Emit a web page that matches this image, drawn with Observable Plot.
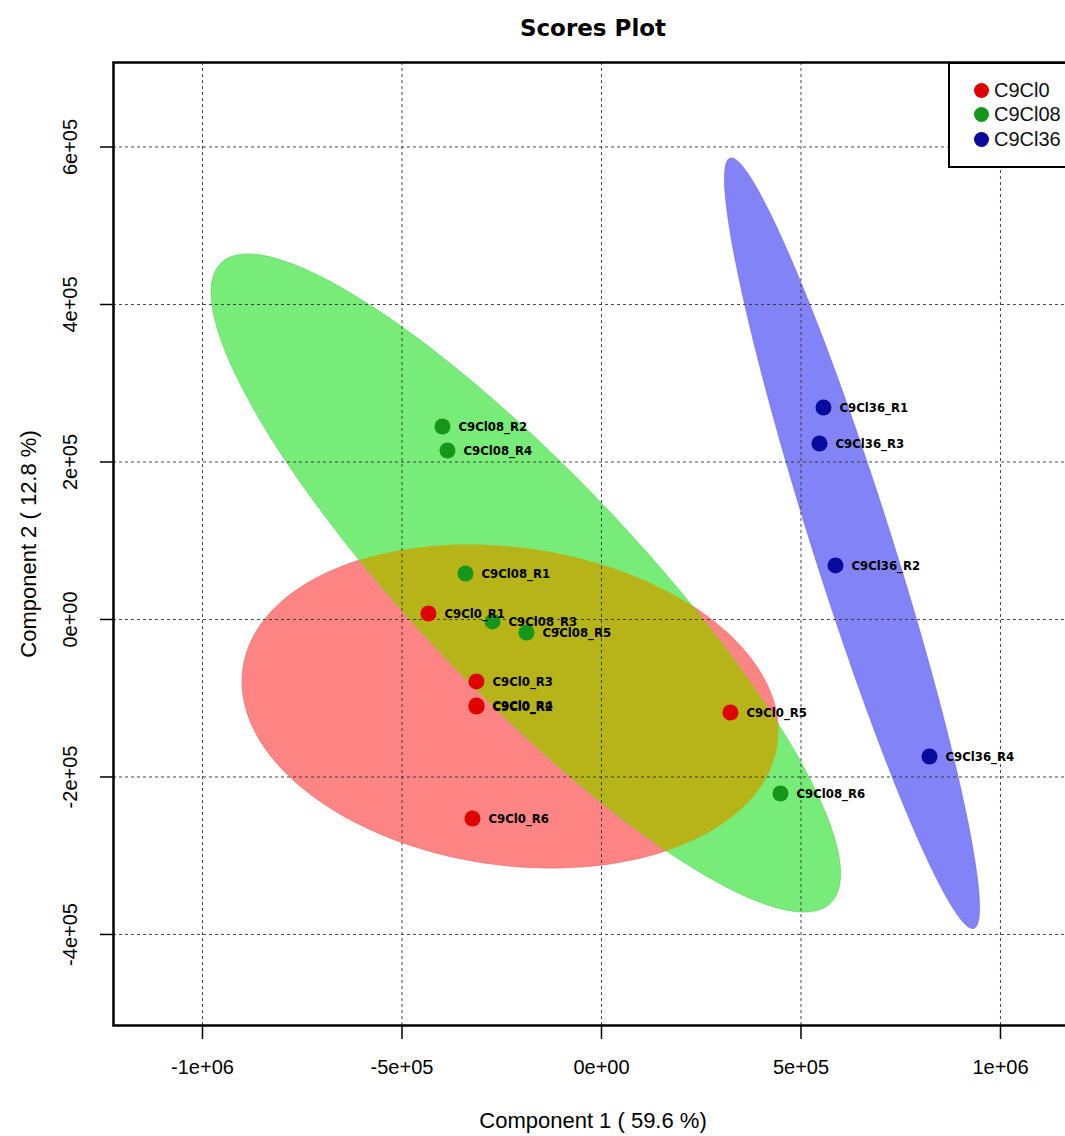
<!DOCTYPE html>
<html><head><meta charset="utf-8">
<script src="https://cdn.jsdelivr.net/npm/d3@7"></script>
<script src="https://cdn.jsdelivr.net/npm/@observablehq/plot@0.6"></script>
<style>
html,body{margin:0;padding:0;background:#fff;overflow:hidden;}
#wrap{position:relative;width:1065px;height:1136px;overflow:hidden;}
#chart{position:absolute;left:0;top:0;width:1100px;}
#chart svg{max-width:none !important;}
#legend{position:absolute;left:948px;top:62px;width:140px;height:106px;border:2px solid #000;box-sizing:border-box;background:#fff;font-family:"Liberation Sans",Arial,sans-serif;font-size:20px;color:#111;}
.item{position:absolute;left:0;height:24px;display:flex;align-items:center;white-space:nowrap;}
.sw{width:15px;height:15px;border-radius:50%;margin-left:24px;margin-right:5px;}
</style></head>
<body><div id="wrap"><div id="chart"></div><div id="legend"></div></div>
<script>
// ---- data ----
const groups = ["C9Cl0", "C9Cl08", "C9Cl36"];
const groupColors = ["#e00000", "#17961c", "#0a0a9c"];
const ellipseFills = ["#ff8585", "#78ec78", "#8383f8"];
const overlapFill = "#b6b418";

const sampleNames = [
  "C9Cl0_R1", "C9Cl0_R2", "C9Cl0_R3", "C9Cl0_R4", "C9Cl0_R5", "C9Cl0_R6",
  "C9Cl08_R1", "C9Cl08_R2", "C9Cl08_R3", "C9Cl08_R4", "C9Cl08_R5", "C9Cl08_R6",
  "C9Cl36_R1", "C9Cl36_R2", "C9Cl36_R3", "C9Cl36_R4"
];
const sampleGroup = [
  "C9Cl0", "C9Cl0", "C9Cl0", "C9Cl0", "C9Cl0", "C9Cl0",
  "C9Cl08", "C9Cl08", "C9Cl08", "C9Cl08", "C9Cl08", "C9Cl08",
  "C9Cl36", "C9Cl36", "C9Cl36", "C9Cl36"
];
const comp1 = [
  -433600, -313300, -313300, -313300, 323300, -323300,
  -340900, -398500, -273200, -386000, -188000, 448600,
  556400, 586500, 546400, 822100
];
const comp2 = [
  7600, -110500, -78700, -109200, -118100, -252700,
  58400, 245100, -2500, 214600, -16500, -221000,
  269200, 68600, 223500, -174000
];

const xTicks = [-1e6, -5e5, 0, 5e5, 1e6];
const xTickLabels = ["-1e+06", "-5e+05", "0e+00", "5e+05", "1e+06"];
const yTicks = [-4e5, -2e5, 0, 2e5, 4e5, 6e5];
const yTickLabels = ["-4e+05", "-2e+05", "0e+00", "2e+05", "4e+05", "6e+05"];
const xDomain = [-1223000, 1220600];
const yDomain = [-515600, 707300];

const title = "Scores Plot";
const xTitle = "Component 1 ( 59.6 %)";
const yTitle = "Component 2 ( 12.8 %)";

// ---- derived ----
const samples = sampleNames.map((name, i) => ({name, group: sampleGroup[i], x: comp1[i], y: comp2[i]}));

// 95% confidence ellipse from sample covariance
const chi = Math.sqrt(-2 * Math.log(0.05));
function ellipse(group) {
  const pts = samples.filter(d => d.group === group);
  const n = pts.length;
  const mx = d3.mean(pts, d => d.x), my = d3.mean(pts, d => d.y);
  let a = 0, b = 0, c = 0;
  for (const p of pts) { a += (p.x - mx) ** 2; b += (p.x - mx) * (p.y - my); c += (p.y - my) ** 2; }
  a /= n - 1; b /= n - 1; c /= n - 1;
  const l11 = Math.sqrt(a), l21 = b / l11, l22 = Math.sqrt(Math.max(c - l21 * l21, 0));
  const out = [];
  for (let k = 0; k < 200; k++) {
    const t = 2 * Math.PI * k / 200;
    const u = chi * Math.cos(t), v = chi * Math.sin(t);
    out.push({group, x: mx + l11 * u, y: my + l21 * u + l22 * v});
  }
  return out;
}
const ellipses = groups.map(ellipse);

const fontTick = "'Liberation Sans', Arial, sans-serif";
const fontLabel = "'DejaVu Sans Condensed', 'Liberation Sans Narrow', 'DejaVu Sans', sans-serif";

const chart = Plot.plot({
  width: 1100,
  height: 1136,
  marginLeft: 113,
  marginRight: 12,
  marginTop: 62,
  marginBottom: 111,
  style: {background: "#fff", color: "#000", fontFamily: fontTick, maxWidth: "none"},
  x: {domain: xDomain, axis: null, label: null},
  y: {domain: yDomain, axis: null, label: null},
  color: {domain: groups, range: groupColors},
  marks: [
    Plot.line(ellipses[0], {x: "x", y: "y", fill: ellipseFills[0], stroke: "#e06060", strokeOpacity: 0.5, strokeWidth: 1, curve: "linear-closed"}),
    Plot.line(ellipses[1], {x: "x", y: "y", fill: ellipseFills[1], stroke: "#50c850", strokeOpacity: 0.5, strokeWidth: 1, curve: "linear-closed"}),
    Plot.line(ellipses[2], {x: "x", y: "y", fill: ellipseFills[2], stroke: "#6060e0", strokeOpacity: 0.5, strokeWidth: 1, curve: "linear-closed"}),
    Plot.line(ellipses[0], {x: "x", y: "y", fill: overlapFill, stroke: "none", curve: "linear-closed"}),
    Plot.gridX(xTicks, {stroke: "#333", strokeOpacity: 0.9, strokeWidth: 1, strokeDasharray: "3,3"}),
    Plot.gridY(yTicks, {stroke: "#333", strokeOpacity: 0.9, strokeWidth: 1, strokeDasharray: "3,3"}),
    Plot.axisX({ticks: xTicks, tickSize: 14, tickPadding: 20, stroke: "#000", strokeWidth: 1.5, label: null,
      tickFormat: d => xTickLabels[xTicks.indexOf(d)], fontSize: 20, fontFamily: fontTick}),
    Plot.axisY({ticks: yTicks, tickSize: 13, stroke: "#000", strokeWidth: 1.5, label: null, tickFormat: d => ""}),
    Plot.text(yTicks, {y: d => d, text: (d, i) => yTickLabels[i], frameAnchor: "left", dx: -43,
      rotate: -90, textAnchor: "middle", lineAnchor: "middle", fontSize: 20, fontFamily: fontTick}),
    Plot.frame({stroke: "#000", strokeWidth: 2.5}),
    Plot.dot(samples, {x: "x", y: "y", fill: "group", r: 8, stroke: "none"}),
    Plot.text(samples, {x: "x", y: "y", text: "name", dx: 16, textAnchor: "start", lineAnchor: "middle",
      fontWeight: "bold", fontSize: 13, fontFamily: fontLabel, fill: "#000"}),
    Plot.text([title], {text: d => d, frameAnchor: "top", dy: -34, dx: -8, lineAnchor: "middle",
      fontWeight: "bold", fontSize: 23, fontFamily: "'DejaVu Sans', sans-serif"}),
    Plot.text([xTitle], {text: d => d, frameAnchor: "bottom", dy: 95, dx: -8, lineAnchor: "middle",
      fontSize: 22, fontFamily: fontTick}),
    Plot.text([yTitle], {text: d => d, frameAnchor: "left", dx: -85, rotate: -90, textAnchor: "middle",
      lineAnchor: "middle", fontSize: 22, fontFamily: fontTick})
  ]
});
document.getElementById("chart").appendChild(chart);

// clip the overlap ellipse copy to the green ellipse
const ns = "http://www.w3.org/2000/svg";
const lineGroups = chart.querySelectorAll('g[aria-label="line"]');
if (lineGroups.length >= 4) {
  const greenPath = lineGroups[1].querySelector("path");
  const overlapPath = lineGroups[3].querySelector("path");
  const defs = document.createElementNS(ns, "defs");
  const cp = document.createElementNS(ns, "clipPath");
  cp.setAttribute("id", "clip-green");
  const p = document.createElementNS(ns, "path");
  p.setAttribute("d", greenPath.getAttribute("d"));
  cp.appendChild(p);
  defs.appendChild(cp);
  chart.insertBefore(defs, chart.firstChild);
  overlapPath.setAttribute("clip-path", "url(#clip-green)");
}

// legend
const legend = document.getElementById("legend");
const legendTops = [14, 38, 63];
groups.forEach((g, i) => {
  const it = document.createElement("div");
  it.className = "item";
  it.style.top = legendTops[i] + "px";
  const sw = document.createElement("span");
  sw.className = "sw";
  sw.style.background = groupColors[i];
  const tx = document.createElement("span");
  tx.textContent = g;
  it.appendChild(sw); it.appendChild(tx);
  legend.appendChild(it);
});
</script>
</body></html>
